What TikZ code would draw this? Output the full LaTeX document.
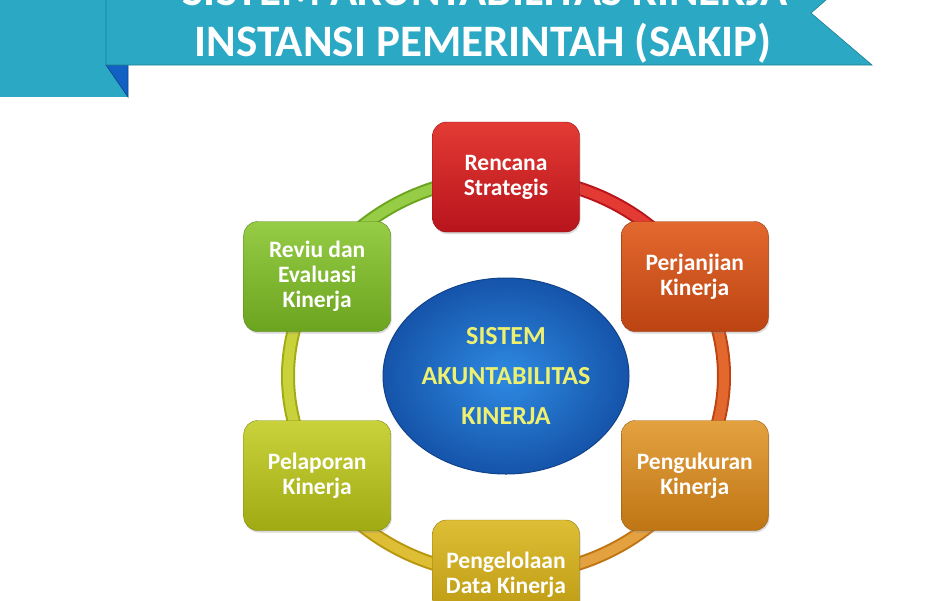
\documentclass[tikz,border=0pt]{standalone}
\usepackage{fontspec}
\setmainfont{Carlito}
\usetikzlibrary{calc,shapes.geometric,shadows}

\definecolor{banner}{HTML}{2AA8C4}
\definecolor{fold}{HTML}{1161C4}
\definecolor{redtop}{HTML}{E33A34}
\definecolor{redbot}{HTML}{B8141C}
\definecolor{ortop}{HTML}{E2682E}
\definecolor{orbot}{HTML}{BC4412}
\definecolor{amtop}{HTML}{E4A140}
\definecolor{ambot}{HTML}{BF7514}
\definecolor{goldtop}{HTML}{DDBE34}
\definecolor{goldbot}{HTML}{B8950E}
\definecolor{limetop}{HTML}{C9D23A}
\definecolor{limebot}{HTML}{A0AA12}
\definecolor{greentop}{HTML}{96CC46}
\definecolor{greenbot}{HTML}{6BA41F}
\definecolor{bluein}{HTML}{2F8AE2}
\definecolor{blueout}{HTML}{1554AA}
\definecolor{sakiptext}{HTML}{EEF070}

\tikzset{
    box/.style={rounded corners=14pt, minimum width=147pt, minimum height=110pt,
        inner sep=0pt, align=center, text=white,
        font=\fontsize{23.5}{25}\selectfont\bfseries,
        drop shadow={shadow xshift=1pt, shadow yshift=-2pt, opacity=0.3}},
    ring/.style={line width=2pt, double distance=10pt},
    titletext/.style={anchor=base, text=white, font=\fontsize{45}{45}\selectfont\bfseries}
}

\begin{document}
\begin{tikzpicture}[x=1pt,y=-1pt]

        \useasboundingbox (0,0) rectangle (934,600);
        \clip (0,0) rectangle (934,600);

        \coordinate (mid) at (506,376);
        \coordinate (rencanapos) at ($(mid)+(-90:218 and 199)$);
        \coordinate (perjanjianpos) at ($(mid)+(-30:218 and 199)$);
        \coordinate (pengukuranpos) at ($(mid)+(30:218 and 199)$);
        \coordinate (pengelolaanpos) at ($(mid)+(90:218 and 199)$);
        \coordinate (pelaporanpos) at ($(mid)+(150:218 and 199)$);
        \coordinate (reviupos) at ($(mid)+(210:218 and 199)$);

        % Banner
        \path[fill=banner] (0,-40) rectangle (128,97);
        \path[draw=fold!70!black, fill=fold, line width=0.6pt] (106,65) -- (128,65) -- (128,97) -- cycle;
        \path[draw=banner!75!black, fill=banner, line width=0.6pt] (106,-40) -- (872,-40) -- (811,13) -- (872,65) -- (106,65) -- cycle;

        \node[titletext] (title1) at (485,5) {SISTEM AKUNTABILITAS KINERJA};
        \node[titletext] (title2) at (483,56) {INSTANSI PEMERINTAH (SAKIP)};

        % Ring behind the boxes
        \path[draw=greenbot, double=greentop, ring] (reviupos) arc[start angle=210, end angle=270, x radius=218, y radius=199];
        \path[draw=redbot, double=redtop, ring] (rencanapos) arc[start angle=-90, end angle=-30, x radius=218, y radius=199];
        \path[draw=orbot, double=ortop, ring] (perjanjianpos) arc[start angle=-30, end angle=30, x radius=218, y radius=199];
        \path[draw=ambot, double=amtop, ring] (pengukuranpos) arc[start angle=30, end angle=90, x radius=218, y radius=199];
        \path[draw=goldbot, double=goldtop, ring] (pengelolaanpos) arc[start angle=90, end angle=150, x radius=218, y radius=199];
        \path[draw=limebot, double=limetop, ring] (pelaporanpos) arc[start angle=150, end angle=210, x radius=218, y radius=199];

        \node[ellipse, minimum width=246pt, minimum height=196pt, inner sep=0pt,
            shading=radial, inner color=bluein, outer color=blueout, draw=blueout!80!black, line width=1pt,
            align=center, text=sakiptext, font=\fontsize{26}{40}\selectfont\bfseries] (sakip) at (506,376)
            {SISTEM\\AKUNTABILITAS\\KINERJA};

        % Boxes on top of everything
        \node[box, top color=redtop, bottom color=redbot, draw=redbot!80!black] (rencana) at (rencanapos) {Rencana\\Strategis};
        \node[box, top color=ortop, bottom color=orbot, draw=orbot!80!black] (perjanjian) at (perjanjianpos) {Perjanjian\\Kinerja};
        \node[box, top color=amtop, bottom color=ambot, draw=ambot!80!black] (pengukuran) at (pengukuranpos) {Pengukuran\\Kinerja};
        \node[box, top color=goldtop, bottom color=goldbot, draw=goldbot!80!black] (pengelolaan) at (pengelolaanpos) {Pengelolaan\\Data Kinerja};
        \node[box, top color=limetop, bottom color=limebot, draw=limebot!80!black] (pelaporan) at (pelaporanpos) {Pelaporan\\Kinerja};
        \node[box, top color=greentop, bottom color=greenbot, draw=greenbot!80!black] (reviu) at (reviupos) {Reviu dan\\Evaluasi\\Kinerja};

    \end{tikzpicture}
\end{document}
